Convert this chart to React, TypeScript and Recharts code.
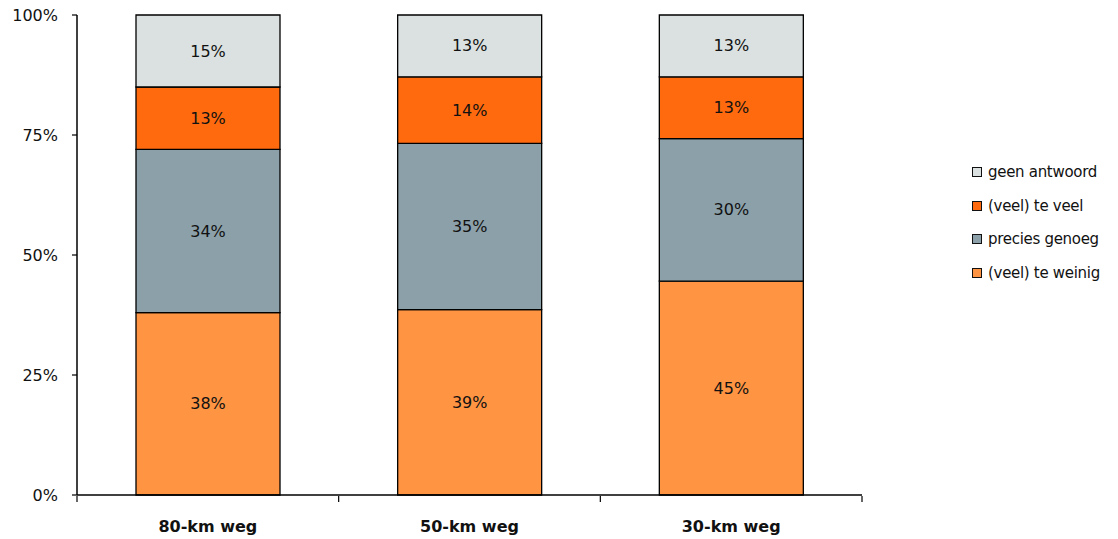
import { Bar, BarChart, LabelList, XAxis, YAxis } from 'recharts'

const categories = ['80-km weg', '50-km weg', '30-km weg']
const teWeinig = [38, 39, 45]
const preciesGenoeg = [34, 35, 30]
const teVeel = [13, 14, 13]
const geenAntwoord = [15, 13, 13]
const yTicks = [0, 0.25, 0.5, 0.75, 1]

const series = [
  { key: 'teWeinig', name: '(veel) te weinig', color: '#FF9442', values: teWeinig },
  { key: 'precies', name: 'precies genoeg', color: '#8BA0A9', values: preciesGenoeg },
  { key: 'teVeel', name: '(veel) te veel', color: '#FF6A0E', values: teVeel },
  { key: 'geen', name: 'geen antwoord', color: '#DAE1E0', values: geenAntwoord },
]

const data = categories.map((cat, i) => {
  const row: Record<string, string | number> = { cat, pos: i + 0.5 }
  for (const s of series) row[s.key] = s.values[i]
  return row
})

const FONT = "Tahoma, 'DejaVu Sans', sans-serif"

function SegLabel(props: any) {
  const { x, y, width, height, index, values } = props
  return (
    <text
      x={x + width / 2}
      y={y + height / 2}
      textAnchor="middle"
      dominantBaseline="central"
      fontSize={16}
      fontFamily={FONT}
      fill="#111"
    >
      {values[index]}%
    </text>
  )
}

// legenda los naast de grafiek, bovenste reeks eerst
function LegendBox() {
  return (
    <div style={{ position: 'absolute', left: 972, top: 155, fontFamily: FONT, fontSize: 15, color: '#111' }}>
      {[...series].reverse().map((s) => (
        <div key={s.key} style={{ display: 'flex', alignItems: 'center', height: 33.7, letterSpacing: -0.3, whiteSpace: 'nowrap' }}>
          <span
            style={{
              display: 'inline-block',
              width: 8,
              height: 8,
              background: s.color,
              border: '1px solid #111',
              marginRight: 6,
            }}
          />
          {s.name}
        </div>
      ))}
    </div>
  )
}

export default function App() {
  return (
    <div style={{ position: 'absolute', left: 0, top: 0, width: 1118, height: 539, background: '#fff' }}>
      <BarChart
        width={1118}
        height={539}
        data={data}
        stackOffset="expand"
        margin={{ top: 15, right: 256, bottom: 0, left: 0 }}
      >
        {/* categorie-as ligt tegen het plotvlak, labels hangen eronder */}
        <XAxis
          xAxisId="cat"
          dataKey="cat"
          height={1}
          axisLine={{ stroke: '#000', strokeWidth: 1.5 }}
          tickLine={false}
          tickSize={0}
          tickMargin={26}
          tick={{ fontSize: 16, fontWeight: 'bold', fontFamily: FONT, fill: '#111' }}
        />
        {/* hulp-as: alleen streepjes op de categoriegrenzen */}
        <XAxis
          xAxisId="grid"
          type="number"
          dataKey="pos"
          domain={[0, 3]}
          ticks={[0, 1, 2, 3]}
          tick={() => <g />}
          height={43}
          tickSize={6}
          axisLine={false}
          tickLine={{ stroke: '#000', strokeWidth: 1.2 }}
        />
        <YAxis
          width={77}
          domain={[0, 1]}
          ticks={yTicks}
          tickFormatter={(v: number) => `${Math.round(v * 100)}%`}
          tickSize={5}
          tickMargin={14}
          axisLine={{ stroke: '#000', strokeWidth: 1.5 }}
          tickLine={{ stroke: '#000', strokeWidth: 1.2 }}
          tick={{ fontSize: 16, fontFamily: FONT, fill: '#111' }}
        />
        {series.map((s) => (
          <Bar
            key={s.key}
            xAxisId="cat"
            dataKey={s.key}
            name={s.name}
            stackId="a"
            fill={s.color}
            stroke="#000"
            strokeWidth={1.3}
            barSize={144}
            isAnimationActive={false}
          >
            <LabelList dataKey={s.key} content={(p: any) => <SegLabel {...p} values={s.values} />} />
          </Bar>
        ))}
      </BarChart>
      <LegendBox />
    </div>
  )
}
